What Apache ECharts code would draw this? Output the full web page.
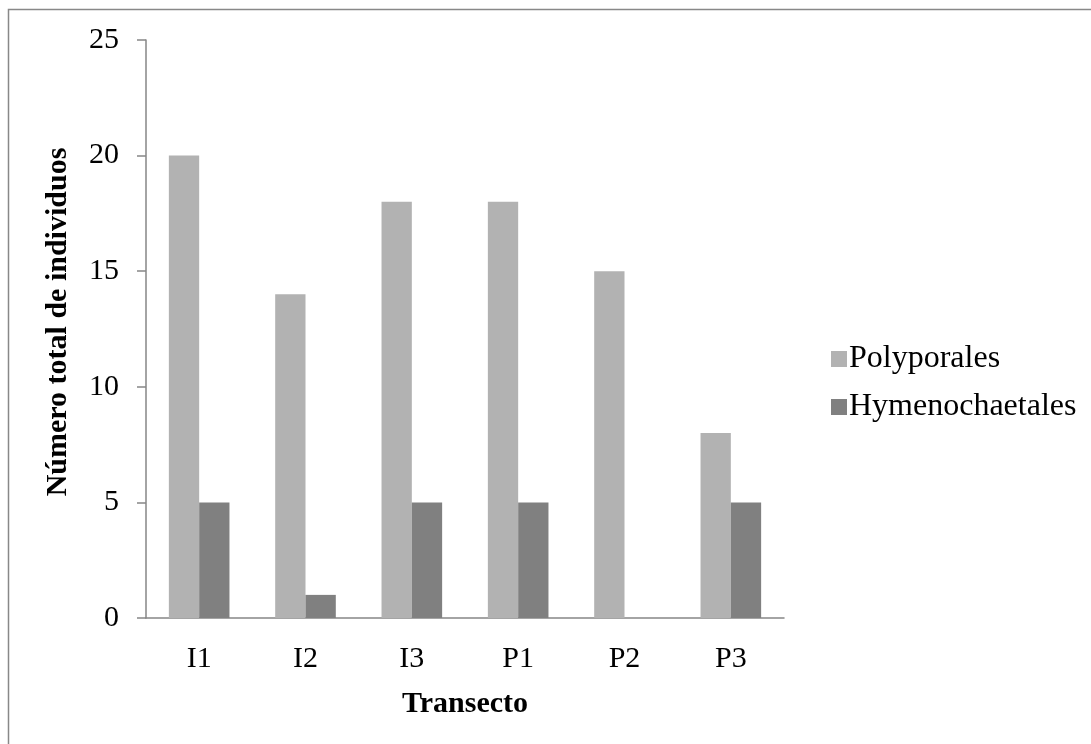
<!DOCTYPE html>
<html>
<head>
<meta charset="utf-8">
<script src="https://cdn.jsdelivr.net/npm/echarts@6/dist/echarts.min.js"></script>
<style>
  html, body { margin: 0; padding: 0; background: #fff; }
  #chart { width: 1091px; height: 744px; }
</style>
</head>
<body>
<div id="chart"></div>
<script>
// Transects and counts per fungal order
const transectos = ['I1', 'I2', 'I3', 'P1', 'P2', 'P3'];
const polyporales = [20, 14, 18, 18, 15, 8];
const hymenochaetales = [5, 1, 5, 5, 0, 5];
const yTicks = { min: 0, max: 25, interval: 5 };

const FONT = '"Liberation Serif", "Times New Roman", serif';

const chart = echarts.init(document.getElementById('chart'), null, { renderer: 'canvas' });

chart.setOption({
  backgroundColor: '#ffffff',
  animation: false,
  textStyle: { fontFamily: FONT, color: '#000' },
  graphic: [
    {
      type: 'rect',
      shape: { x: 8.5, y: 9.5, width: 1200, height: 800 },
      style: { fill: 'none', stroke: '#888', lineWidth: 1.5 },
      silent: true
    },
    {
      type: 'text',
      x: 58, y: 322,
      rotation: Math.PI / 2,
      style: {
        text: 'Número total de individuos',
        fontFamily: FONT, fontWeight: 'bold', fontSize: 30,
        fill: '#000', align: 'center', verticalAlign: 'middle'
      }
    }
  ],
  legend: {
    orient: 'vertical',
    left: 826,
    top: 338,
    itemWidth: 16,
    itemHeight: 16,
    itemGap: 16,
    icon: 'rect',
    textStyle: { fontFamily: FONT, fontSize: 32, color: '#000', padding: [0, 0, 0, -3] },
    data: ['Polyporales', 'Hymenochaetales']
  },
  grid: { left: 146, right: 307, top: 40, bottom: 126, containLabel: false },
  xAxis: {
    type: 'category',
    data: transectos,
    axisLine: { lineStyle: { color: '#868686', width: 1.5 } },
    axisTick: { show: false },
    axisLabel: { fontFamily: FONT, fontSize: 30, color: '#000', margin: 26 },
    name: 'Transecto',
    nameLocation: 'middle',
    nameGap: 71,
    nameTextStyle: { fontFamily: FONT, fontWeight: 'bold', fontSize: 30, color: '#000' }
  },
  yAxis: {
    type: 'value',
    min: yTicks.min,
    max: yTicks.max,
    interval: yTicks.interval,
    axisLine: { show: true, lineStyle: { color: '#868686', width: 1.5 } },
    axisTick: { show: true, length: 9, lineStyle: { color: '#868686', width: 1.5 } },
    splitLine: { show: false },
    axisLabel: { fontFamily: FONT, fontSize: 30, color: '#000', margin: 27 }
  },
  series: [
    {
      name: 'Polyporales',
      type: 'bar',
      data: polyporales,
      barGap: '0%',
      barCategoryGap: '43%',
      itemStyle: { color: '#b2b2b2' }
    },
    {
      name: 'Hymenochaetales',
      type: 'bar',
      data: hymenochaetales,
      itemStyle: { color: '#808080' }
    }
  ]
});
</script>
</body>
</html>
